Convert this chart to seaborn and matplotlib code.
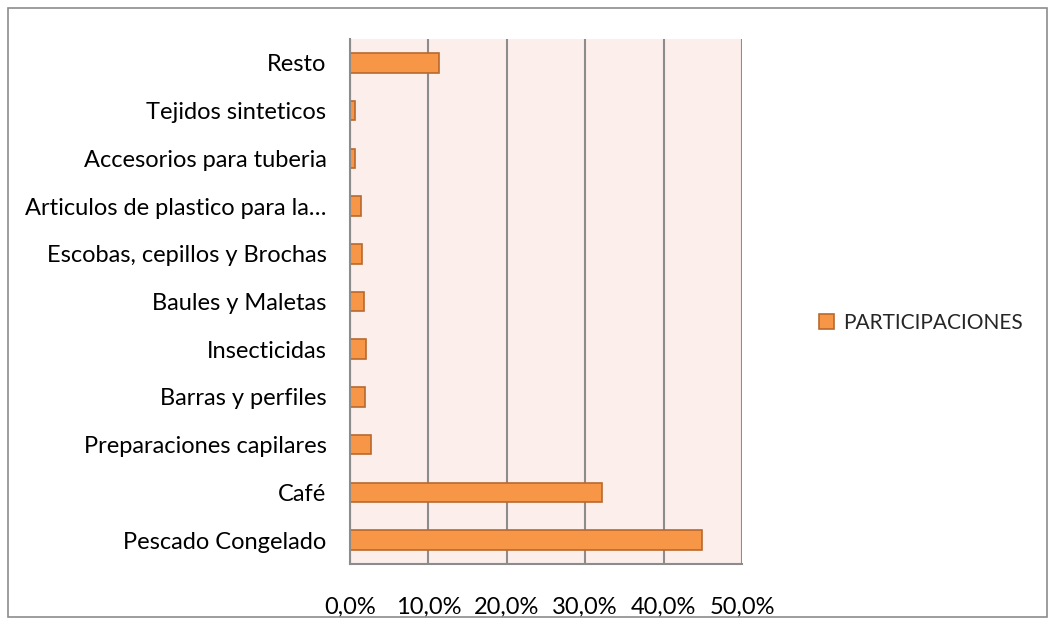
import pandas as pd
import seaborn as sns
import matplotlib.pyplot as plt
from matplotlib.ticker import FuncFormatter, FixedLocator
from matplotlib.patches import Rectangle

# datos (participacion, fraccion)
productos = ['Resto', 'Tejidos sinteticos', 'Accesorios para tuberia',
             'Articulos de plastico para la…', 'Escobas, cepillos y Brochas',
             'Baules y Maletas', 'Insecticidas', 'Barras y perfiles',
             'Preparaciones capilares', 'Café', 'Pescado Congelado']
participaciones = [0.113, 0.0064, 0.0064, 0.0136, 0.015, 0.018, 0.020,
                   0.0196, 0.0264, 0.322, 0.449]

df = pd.DataFrame({'producto': productos, 'PARTICIPACIONES': participaciones})

sns.set_style('white')
plt.rcParams['font.family'] = ['Lato', 'DejaVu Sans']

fig = plt.figure(figsize=(10.55, 6.25), dpi=100)
ax = fig.add_axes([350 / 1055, 1 - 564 / 625, 392 / 1055, 525 / 625])

sns.barplot(data=df, x='PARTICIPACIONES', y='producto', orient='h',
            color='#F79646', edgecolor='#B8692E', linewidth=1.2,
            width=0.41, saturation=1, ax=ax, label='PARTICIPACIONES')

ax.set_facecolor('#FCEEEA')
ax.set_xlim(0, 0.5)
ax.set_ylim(len(productos) - 0.5, -0.5)
ax.set_xticks([0, 0.1, 0.2, 0.3, 0.4, 0.5])
ax.xaxis.set_major_formatter(FuncFormatter(lambda v, p: f'{v * 100:.1f}%'.replace('.', ',')))
ax.grid(axis='x', color='#8C8C8C', linewidth=1.5)
ax.set_axisbelow(True)
ax.set_xlabel('')
ax.set_ylabel('')

for s in ['top', 'right']:
    ax.spines[s].set_visible(False)
for s in ['left', 'bottom']:
    ax.spines[s].set_color('#8C8C8C')
    ax.spines[s].set_linewidth(1.5)

ax.tick_params(axis='x', length=6.5, width=1.5, color='#8C8C8C', labelsize=17, pad=17, labelcolor='black')
ax.tick_params(axis='y', which='major', length=0, labelsize=17, pad=17, labelcolor='black')
ax.yaxis.set_minor_locator(FixedLocator([i - 0.5 for i in range(len(productos) + 1)]))
ax.tick_params(axis='y', which='minor', length=6, width=1.5, color='#8C8C8C')

leg = ax.legend(loc='center left', bbox_to_anchor=(800 / 1055, 1 - 323 / 625),
                bbox_transform=fig.transFigure, frameon=False, fontsize=15,
                handlelength=0.75, handleheight=0.75, handletextpad=0.4)

fig.patches.append(Rectangle((8 / 1055, 8 / 625), 1039 / 1055, 609 / 625,
                             transform=fig.transFigure, fill=False,
                             edgecolor='#8C8C8C', linewidth=1.2))

fig.savefig('out.png', dpi=100)
